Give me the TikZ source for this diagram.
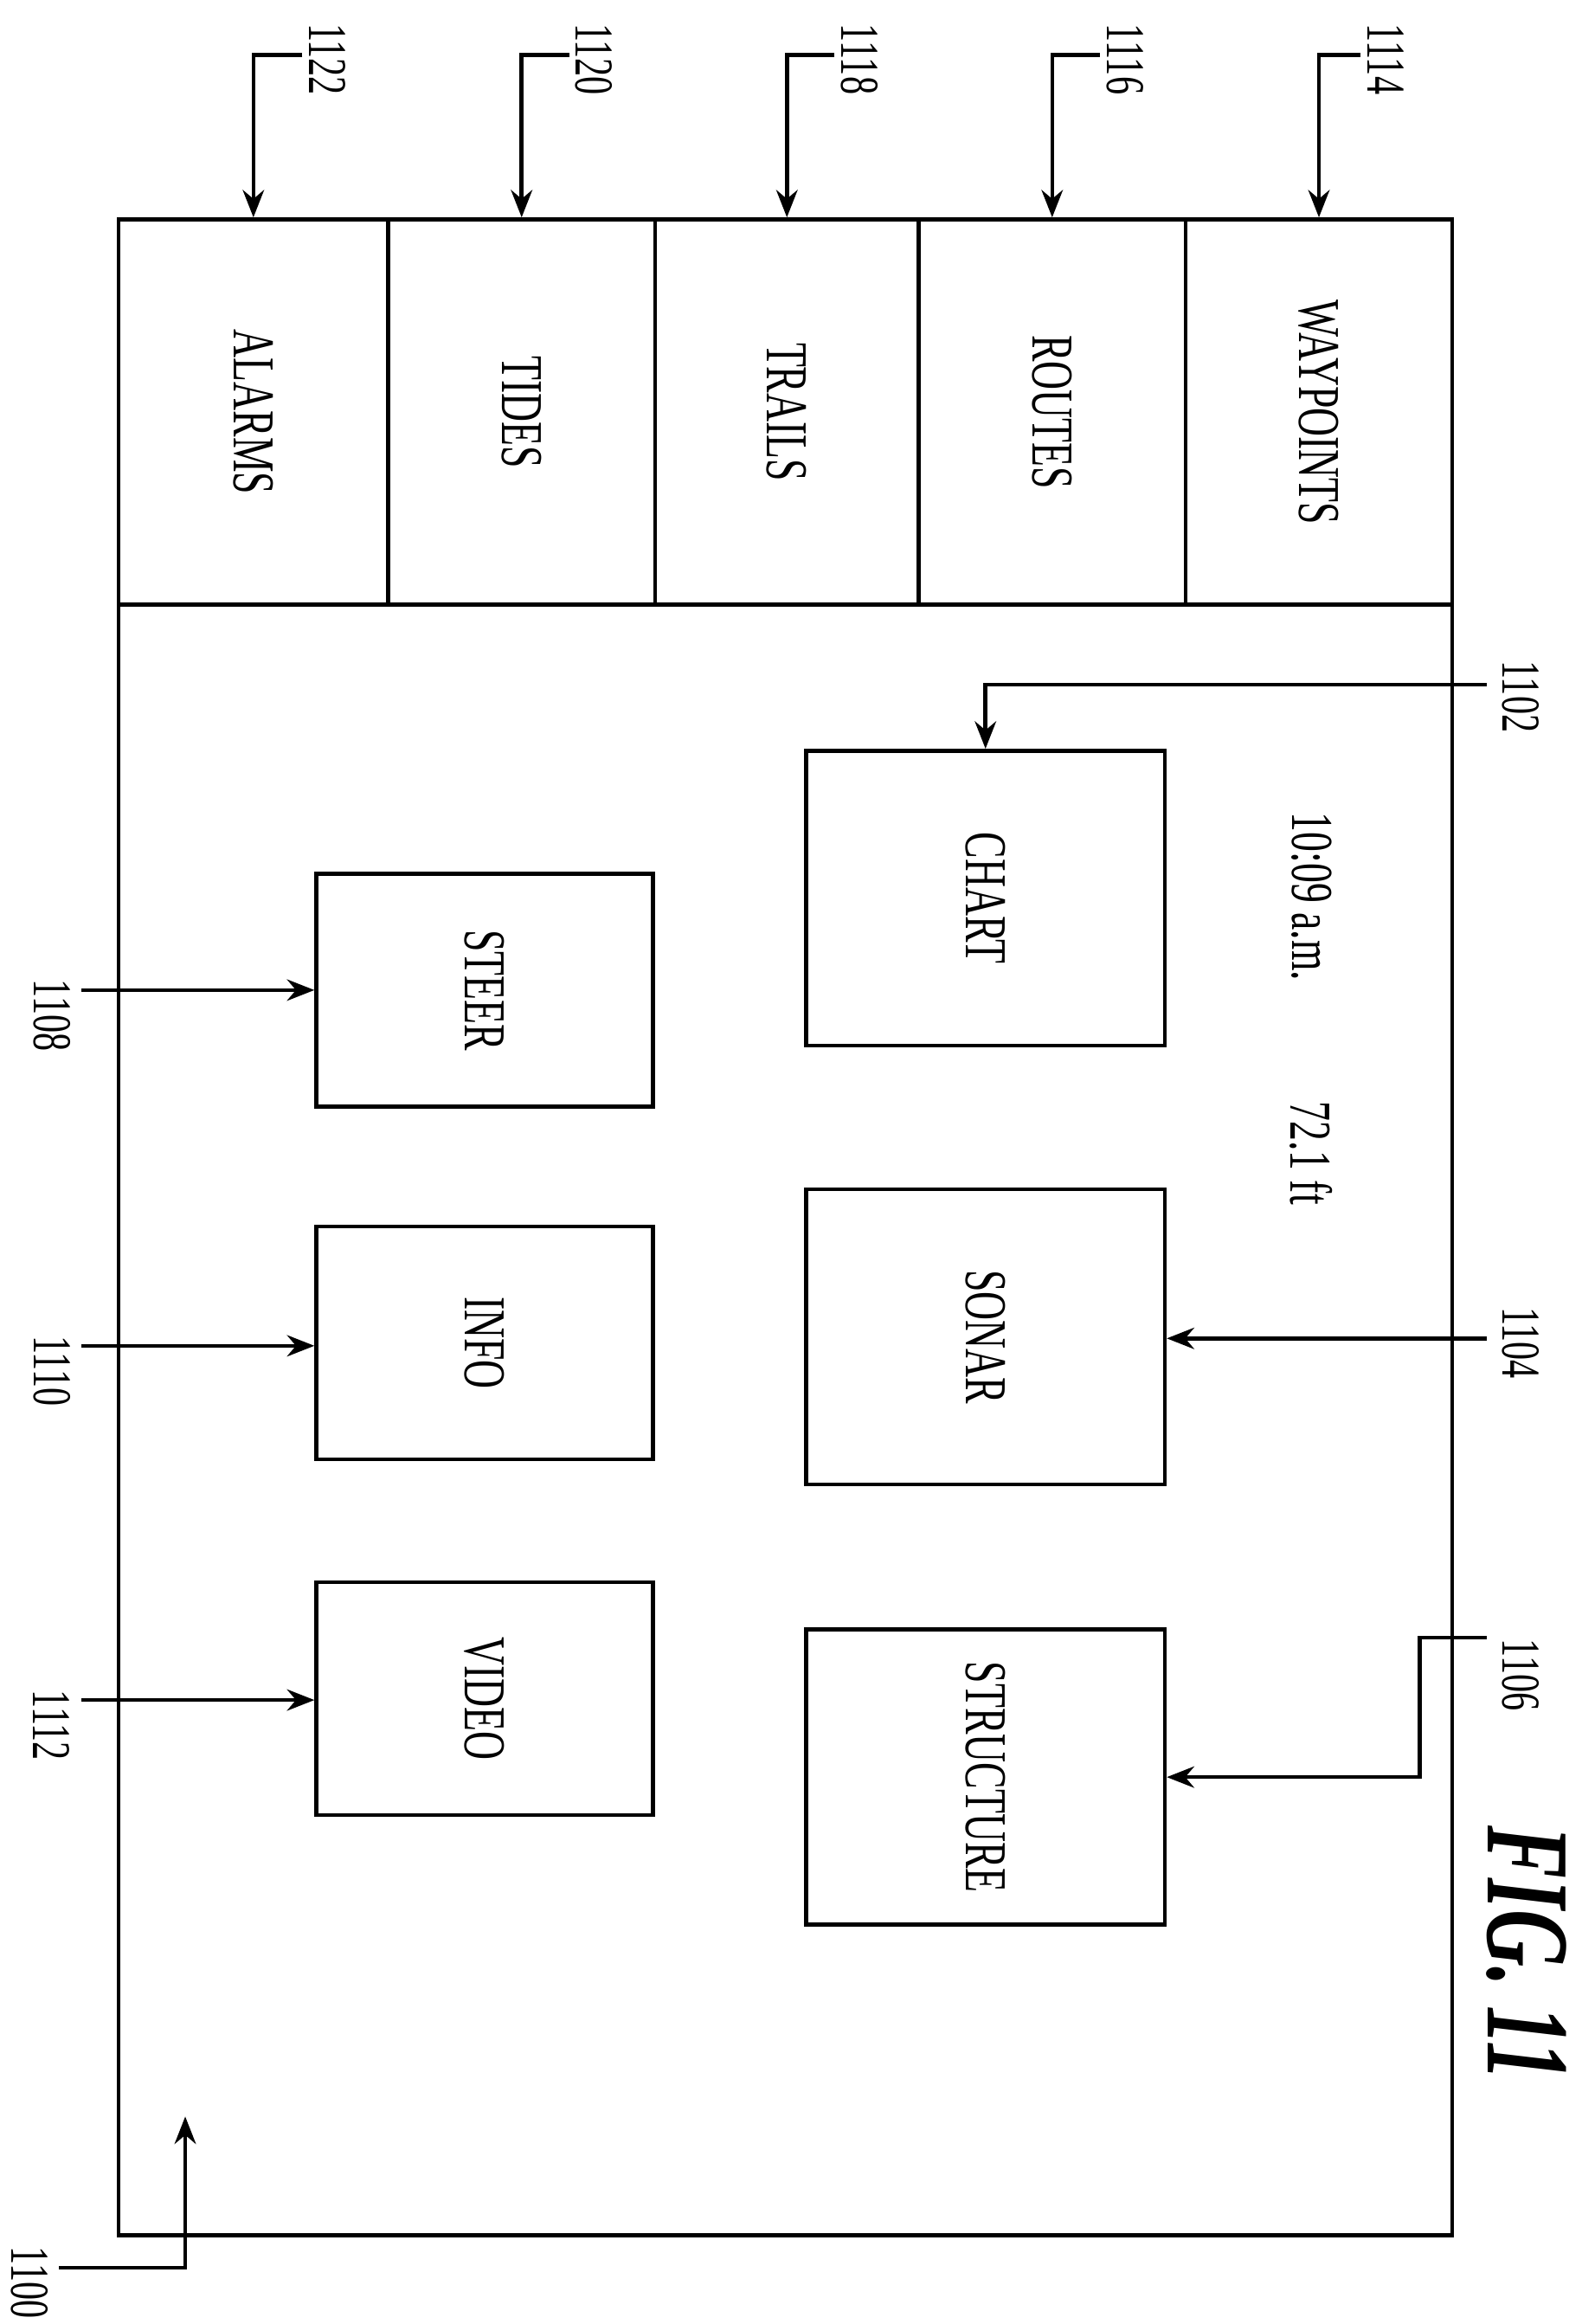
\documentclass[tikz,border=0pt]{standalone}
\usepackage{fontspec}
\setmainfont{Liberation Serif}
\usetikzlibrary{arrows.meta}
\newcommand\rt[1]{\rotatebox{-90}{\scalebox{1}[1.5]{#1}}}
\begin{document}
\begin{tikzpicture}[x=0.01712cm,y=-0.01712cm,
  box/.style={draw,line width=1.3pt,inner sep=0,font=\fontsize{13}{15}\selectfont},
  num/.style={inner sep=0,font=\fontsize{12}{14}\selectfont},
  ld/.style={line width=1.3pt,-{Stealth[length=9pt,width=7pt]}},
  ln/.style={line width=1.3pt}]
\useasboundingbox (0,0) rectangle (1067,1568);
\node[box,minimum width=900*0.01712cm,minimum height=1360*0.01712cm] (screen) at (530,828) {};
\foreach \n/\a/\b/\t in {al/80/262/ALARMS,ti/262/442/TIDES,tr/442/620/TRAILS,ro/620/800/ROUTES,wp/800/980/WAYPOINTS}{
  \node[box,minimum width={(\b-\a)*0.01712cm},minimum height=260*0.01712cm] (\n) at ({(\a+\b)/2},278) {\rt{\t}};
}
\node[box,minimum width=242*0.01712cm,minimum height=199*0.01712cm] (chart) at (665,606) {\rt{CHART}};
\node[box,minimum width=242*0.01712cm,minimum height=199*0.01712cm] (sonar) at (665,902) {\rt{SONAR}};
\node[box,minimum width=242*0.01712cm,minimum height=199*0.01712cm] (struct) at (665,1199) {\rt{STRUCTURE}};
\node[box,minimum width=227*0.01712cm,minimum height=157*0.01712cm] (steer) at (327,668) {\rt{STEER}};
\node[box,minimum width=227*0.01712cm,minimum height=157*0.01712cm] (info) at (327,906) {\rt{INFO}};
\node[box,minimum width=227*0.01712cm,minimum height=157*0.01712cm] (video) at (327,1146) {\rt{VIDEO}};
\node[box,draw=none] (time) at (885,605) {\rt{10:09 a.m.}};
\node[box,draw=none] (depth) at (885,778) {\rt{72.1 ft}};
\node[inner sep=0,font=\fontsize{26}{30}\selectfont\bfseries\itshape] (fig) at (1030,1318) {\rt{FIG. 11}};
% top leaders
\foreach \t/\c/\x in {1114/wp/918,1116/ro/742,1118/tr/563,1120/ti/384,1122/al/204}{
  \node[num] (n\t) at ({\x+17},40) {\rt{\t}};
  \coordinate (s\t) at (\x,37);
  \draw[ld] (s\t) -| (\c.north);
}
\node[num] (n1102) at (1026,470) {\rt{1102}};
\coordinate (s1102) at (1003,462);
\draw[ld] (s1102) -| (chart.north);
\node[num] (n1104) at (1026,906) {\rt{1104}};
\coordinate (s1104) at (1003,903);
\draw[ld] (s1104) -- (sonar.east |- s1104);
\node[num] (n1106) at (1026,1130) {\rt{1106}};
\coordinate (s1106) at (1003,1105);
\coordinate (k1106) at (958,1105);
\draw[ld] (s1106) -- (k1106) |- (struct.east);
\foreach \t/\b/\y in {1108/steer/668,1110/info/908,1112/video/1147}{
  \node[num] (n\t) at (35,{\y+17}) {\rt{\t}};
  \coordinate (s\t) at (55,\y);
  \draw[ld] (s\t) -- (\b.west |- s\t);
}
\node[num] (n1100) at (20,1540) {\rt{1100}};
\coordinate (s1100) at (40,1530);
\coordinate (e1100) at (125,1428);
\draw[ld] (s1100) -| (e1100);
\end{tikzpicture}
\end{document}
